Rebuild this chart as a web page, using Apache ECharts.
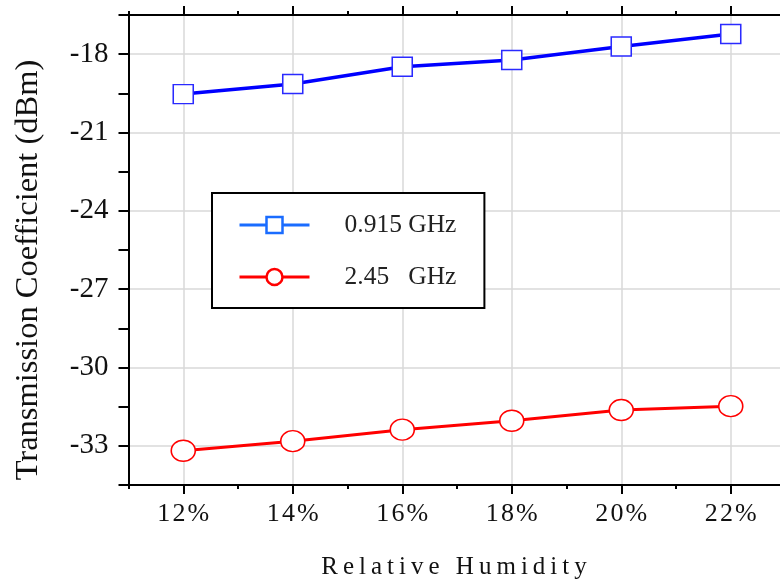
<!DOCTYPE html>
<html>
<head>
<meta charset="utf-8">
<script src="https://cdn.jsdelivr.net/npm/echarts@6/dist/echarts.min.js"></script>
<style>
  html, body { margin: 0; padding: 0; background: #fff; }
  #chartDiv { width: 780px; height: 585px; }
</style>
</head>
<body>
<div id="chartDiv"></div>
<script>
// relative humidity (%) and transmission coefficient (dBm)
var humidity = [12, 14, 16, 18, 20, 22];
var ghz0915 = [-19.53, -19.14, -18.48, -18.22, -17.71, -17.23];
var ghz245 = [-33.19, -32.82, -32.38, -32.04, -31.63, -31.48];
var seriesNames = ['0.915 GHz', '2.45   GHz'];
var majorX = [12, 14, 16, 18, 20, 22];

var serif = '"Liberation Serif", "Times New Roman", serif';

function pairs(ys) {
    return humidity.map(function (h, i) { return [h, ys[i]]; });
}

// spread letters a little, like the original figure
function spaced(str, sep) {
    return str.split('').join(sep);
}

var myChart = echarts.init(document.getElementById('chartDiv'));

var xBase = {
    type: 'value',
    min: 11,
    max: 23,
    interval: 1,
    axisLine: { show: true, lineStyle: { color: '#000', width: 2 } },
    axisTick: { show: true, inside: false, length: 4, lineStyle: { color: '#000', width: 2 } },
    axisLabel: { show: false },
    splitLine: { show: false }
};

function xAxisOf(pos, main) {
    var ax = echarts.util.clone(xBase);
    ax.position = pos;
    if (main) {
        ax.splitLine = { show: true, lineStyle: { color: ['rgba(0,0,0,0)', '#d9d9d9'], width: 1.5 } };
        ax.axisLabel = {
            show: true,
            margin: 16,
            color: '#111',
            fontFamily: serif,
            fontSize: 26,
            formatter: function (v) {
                return v % 2 === 0 ? spaced(v + '%', '\u200A') : '';
            }
        };
    }
    return ax;
}

function xMajorTicks(pos) {
    var ax = echarts.util.clone(xBase);
    ax.position = pos;
    ax.axisLine = { show: false };
    ax.axisTick = { show: true, length: 9, customValues: majorX, lineStyle: { color: '#000', width: 2 } };
    return ax;
}

var option = {
    backgroundColor: '#fff',
    animation: false,
    grid: { left: 128.5, width: 657, top: 15, bottom: 100, containLabel: false, outerBoundsMode: 'none' },
    xAxis: [
        xAxisOf('bottom', true),
        xMajorTicks('bottom'),
        xAxisOf('top', false),
        xMajorTicks('top')
    ],
    yAxis: {
        type: 'value',
        min: -34.5,
        max: -16.5,
        interval: 1.5,
        axisLine: { show: true, lineStyle: { color: '#000', width: 2 } },
        axisTick: { show: true, length: 10, lineStyle: { color: '#000', width: 2 } },
        axisLabel: {
            margin: 20,
            color: '#111',
            fontFamily: serif,
            fontSize: 29,
            formatter: function (v) {
                return v % 3 === 0 ? String(v) : '';
            }
        },
        splitLine: { show: true, lineStyle: { color: ['rgba(0,0,0,0)', '#d9d9d9'], width: 1.5 } }
    },
    legend: {
        orient: 'vertical',
        left: 212,
        top: 193,
        padding: [19, 28, 18, 26],
        itemWidth: 70,
        itemHeight: 20,
        itemGap: 26,
        backgroundColor: '#fff',
        borderColor: '#000',
        borderWidth: 2,
        borderRadius: 0,
        data: [
            { name: seriesNames[0], lineStyle: { color: '#1a6cff', width: 3 }, itemStyle: { color: '#fff', borderColor: '#1a6cff', borderWidth: 2.5 } },
            { name: seriesNames[1], lineStyle: { color: '#ff0000', width: 3 }, itemStyle: { color: '#fff', borderColor: '#ff0000', borderWidth: 2.5 } }
        ],
        formatter: function (name) { return '{t|' + name + '}'; },
        textStyle: {
            rich: {
                t: { padding: [0, 0, 0, 30], fontSize: 25.5, lineHeight: 20, fontFamily: serif, color: '#222' }
            }
        }
    },
    graphic: [
        {
            type: 'text',
            x: 28,
            y: 270,
            rotation: Math.PI / 2,
            style: {
                text: 'Transmission Coefficient (dBm)',
                font: '32.5px ' + serif,
                fill: '#111',
                align: 'center',
                verticalAlign: 'middle',
                textAlign: 'center',
                textVerticalAlign: 'middle'
            }
        },
        {
            type: 'text',
            x: 454,
            y: 567,
            style: {
                text: spaced('Relative Humidity', '\u2009'),
                font: '25px ' + serif,
                fill: '#111',
                align: 'center',
                verticalAlign: 'middle',
                textAlign: 'center',
                textVerticalAlign: 'middle'
            }
        }
    ],
    series: [
        {
            name: seriesNames[0],
            type: 'line',
            xAxisIndex: 0,
            data: pairs(ghz0915),
            symbol: 'rect',
            symbolSize: [20, 19],
            lineStyle: { color: '#0000ff', width: 3.5 },
            itemStyle: { color: '#fff', borderColor: '#2a2aff', borderWidth: 1.5 },
            z: 3
        },
        {
            name: seriesNames[1],
            type: 'line',
            xAxisIndex: 0,
            data: pairs(ghz245),
            symbol: 'circle',
            symbolSize: [24, 21],
            lineStyle: { color: '#ff0000', width: 3 },
            itemStyle: { color: '#fff', borderColor: '#ff0000', borderWidth: 1.5 },
            z: 3
        }
    ]
};

myChart.setOption(option);
</script>
</body>
</html>
